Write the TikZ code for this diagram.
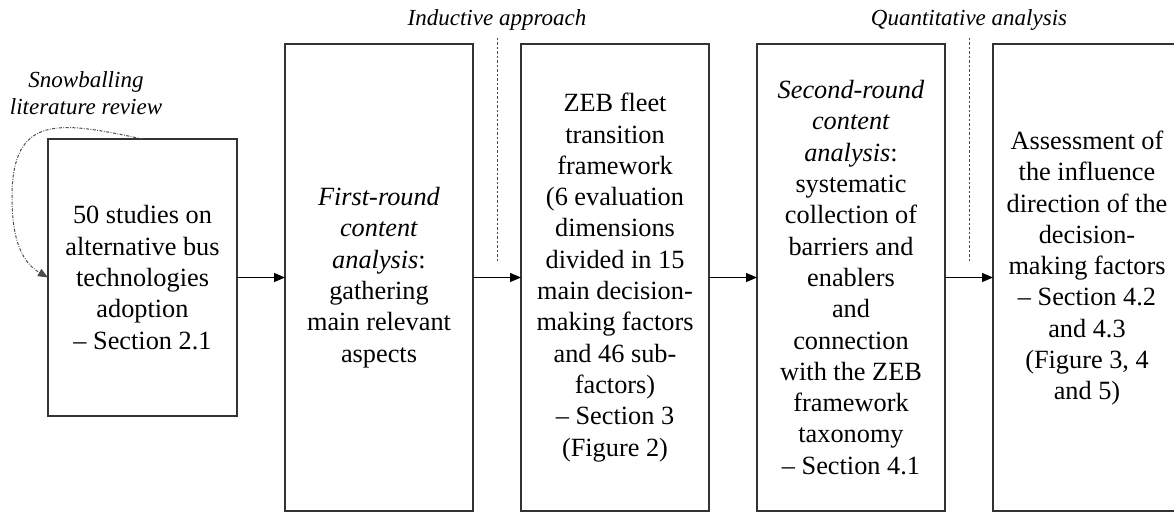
\documentclass[tikz,border=0pt]{standalone}
\usepackage{fontspec}
\setmainfont{Liberation Serif}
\usetikzlibrary{arrows.meta}
\usetikzlibrary{positioning}
\tikzset{node distance=48pt, auto}

\begin{document}
\begin{tikzpicture}[x=1pt, y=-1pt, node distance=48pt]
\tikzset{
  stage/.style={draw=black!80, line width=2pt, inner sep=0pt, outer sep=0pt,
    minimum width=188pt, minimum height=467pt, align=center,
    font=\fontsize{26.3}{31.3}\selectfont},
  note/.style={inner sep=0pt, align=center, font=\fontsize{23}{27}\selectfont\itshape},
  flow/.style={line width=1.2pt, -{Triangle[length=11pt,width=9pt]}},
  snowball/.style={black!70, line width=1pt, dash pattern=on 3pt off 1.5pt on 0.8pt off 1.5pt,
    -{Triangle[length=10pt,width=8pt]}},
  divider/.style={black!70, line width=1pt, dash pattern=on 2.5pt off 2pt}
}

\useasboundingbox (0,0) rectangle (1174,513);
\clip (0,0) rectangle (1174,513);

% stages
\node[stage, minimum width=189pt, minimum height=277pt] (b1) at (142.5,277.5)
  {50 studies on\\alternative bus\\technologies\\adoption\\– Section 2.1};
\node[stage, right=of b1] (b2)
  {\textit{First-round}\\\textit{content}\\\textit{analysis}:\\gathering\\main relevant\\aspects};
\node[stage, right=of b2] (b3)
  {ZEB fleet\\transition\\framework\\(6 evaluation\\dimensions\\divided in 15\\main decision-\\making factors\\and 46 sub-\\factors)\\– Section 3\\(Figure 2)};
\node[stage, right=of b3] (b4)
  {\textit{Second-round}\\\textit{content}\\\textit{analysis}:\\systematic\\collection of\\barriers and\\enablers\\and\\connection\\with the ZEB\\framework\\taxonomy\\– Section 4.1};
\node[stage, right=of b4] (b5)
  {Assessment of\\the influence\\direction of the\\decision-\\making factors\\– Section 4.2\\and 4.3\\(Figure 3, 4\\and 5)\\[-7pt]\mbox{}};

\draw[flow] (b1.east) -- (b2.west);
\draw[flow] (b2.east) -- (b3.west);
\draw[flow] (b3.east) -- (b4.west);
\draw[flow] (b4.east) -- (b5.west);

% snowballing loop
\node[note] (snow) at (86,93) {Snowballing\\literature review};
\coordinate (snowleft) at (12,197);
\draw[snowball] (b1.north) to[out=168,in=90,looseness=1.5] (snowleft)
  to[out=270,in=150] (b1.west);

% approach labels
\node[note] (ind) at (497,20) {Inductive approach};
\node[note] (quant) at (969,20) {Quantitative analysis};
\coordinate (indtop) at (497,38);
\coordinate (indbot) at (497,263);
\coordinate (quanttop) at (969,38);
\coordinate (quantbot) at (969,263);
\draw[divider] (indtop) -- (indbot);
\draw[divider] (quanttop) -- (quantbot);
\end{tikzpicture}
\end{document}
